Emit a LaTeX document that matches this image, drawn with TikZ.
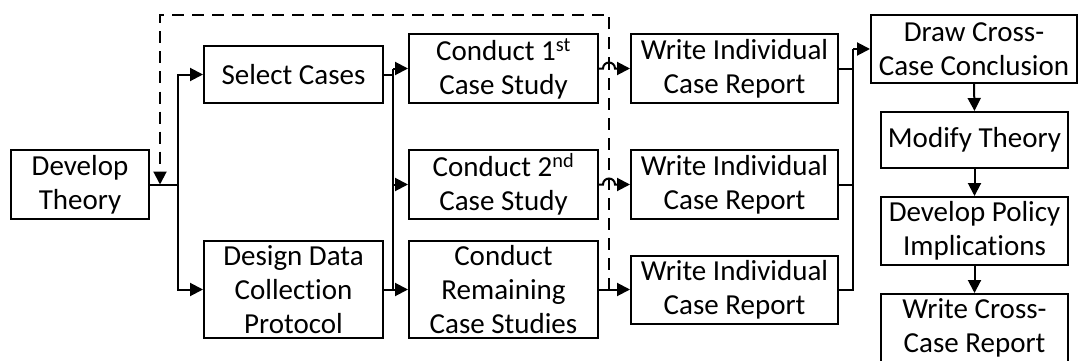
\documentclass[tikz,border=0pt]{standalone}
\usepackage{fontspec}
\setmainfont{Carlito}[Ligatures=NoCommon]
\usetikzlibrary{arrows.meta}
\begin{document}
\begin{tikzpicture}[x=1pt,y=-1pt,
  box/.style={draw,line width=2pt,inner sep=0pt,align=center,font=\fontsize{29}{34}\selectfont},
  conn/.style={line width=2pt},
  arr/.style={conn,-{Triangle[length=13pt,width=13pt]}},
  dsh/.style={line width=2pt,dash pattern=on 12pt off 8pt}]
\useasboundingbox (0,0) rectangle (1078,361);
% nodes
\node[box,minimum width=138pt,minimum height=69pt] (dt) at (80,184.5) {Develop\\Theory};
\node[box,minimum width=179pt,minimum height=57pt] (sel) at (293.5,74.5) {Select Cases};
\node[box,minimum width=179pt,minimum height=97pt] (des) at (293.5,289.5) {Design Data\\Collection\\Protocol};
\node[box,minimum width=189pt,minimum height=69pt] (c1) at (503.5,68.5) {Conduct 1\textsuperscript{st}\\Case Study};
\node[box,minimum width=189pt,minimum height=69pt] (c2) at (503.5,184.5) {Conduct 2\textsuperscript{nd}\\Case Study};
\node[box,minimum width=189pt,minimum height=97pt] (cr) at (503.5,289.5) {Conduct\\Remaining\\Case Studies};
\node[box,minimum width=207pt,minimum height=69pt] (w1) at (734.5,68.5) {Write Individual\\Case Report};
\node[box,minimum width=207pt,minimum height=69pt] (w2) at (734.5,184.5) {Write Individual\\Case Report};
\node[box,minimum width=207pt,minimum height=68pt] (w3) at (734.5,289.5) {Write Individual\\Case Report};
\node[box,minimum width=206pt,minimum height=68pt] (dc) at (974,49) {Draw Cross-\\Case Conclusion};
\node[box,minimum width=187pt,minimum height=56pt] (mt) at (974.5,140) {Modify Theory};
\node[box,minimum width=187pt,minimum height=68pt] (dp) at (974.5,231) {Develop Policy\\Implications};
\node[box,minimum width=187pt,minimum height=68pt] (wc) at (974.5,328) {Write Cross-\\Case Report};
% junction coordinates
\coordinate (j1) at (178,184.5);
\coordinate (bus) at (393,0);
\coordinate (rbus) at (853,0);
\coordinate (hop1) at (603,68.5);
\coordinate (hop2) at (603,184.5);
\coordinate (dtop) at (609,15);
\coordinate (dleft) at (160,15);
% connectors from Develop Theory
\draw[conn] (dt.east) -- (j1);
\draw[arr] (j1) |- (sel.west);
\draw[arr] (j1) |- (des.west);
% bus to conduct boxes
\draw[conn] (sel.east) -| (bus |- c1.west);
\draw[conn] (bus |- c1.west) -- (bus |- des.east);
\draw[arr] (bus |- c1.west) -- (c1.west);
\draw[arr] (bus |- c2.west) -- (c2.west);
\draw[arr] (des.east) -- (cr.west);
% conduct to write
\draw[arr] (c1.east) -- (hop1) arc[start angle=180,end angle=360,radius=6] -- (w1.west);
\draw[arr] (c2.east) -- (hop2) arc[start angle=180,end angle=360,radius=6] -- (w2.west);
\draw[arr] (cr.east) -- (w3.west);
% dashed feedback
\draw[dsh,-{Triangle[length=13pt,width=13pt]}] (dtop |- cr.east) -- (dtop) -- (dleft) -- (dleft |- dt.east);
% right bus
\draw[conn] (w1.east) -- (rbus |- w1.east);
\draw[conn] (w2.east) -- (rbus |- w2.east);
\draw[conn] (w3.east) -- (rbus |- w3.east) -- (rbus |- dc.west);
\draw[arr] (rbus |- dc.west) -- (dc.west);
% right column
\draw[arr] (dc.south) -- (mt.north);
\draw[arr] (mt.south) -- (dp.north);
\draw[arr] (dp.south) -- (wc.north);
\end{tikzpicture}
\end{document}
